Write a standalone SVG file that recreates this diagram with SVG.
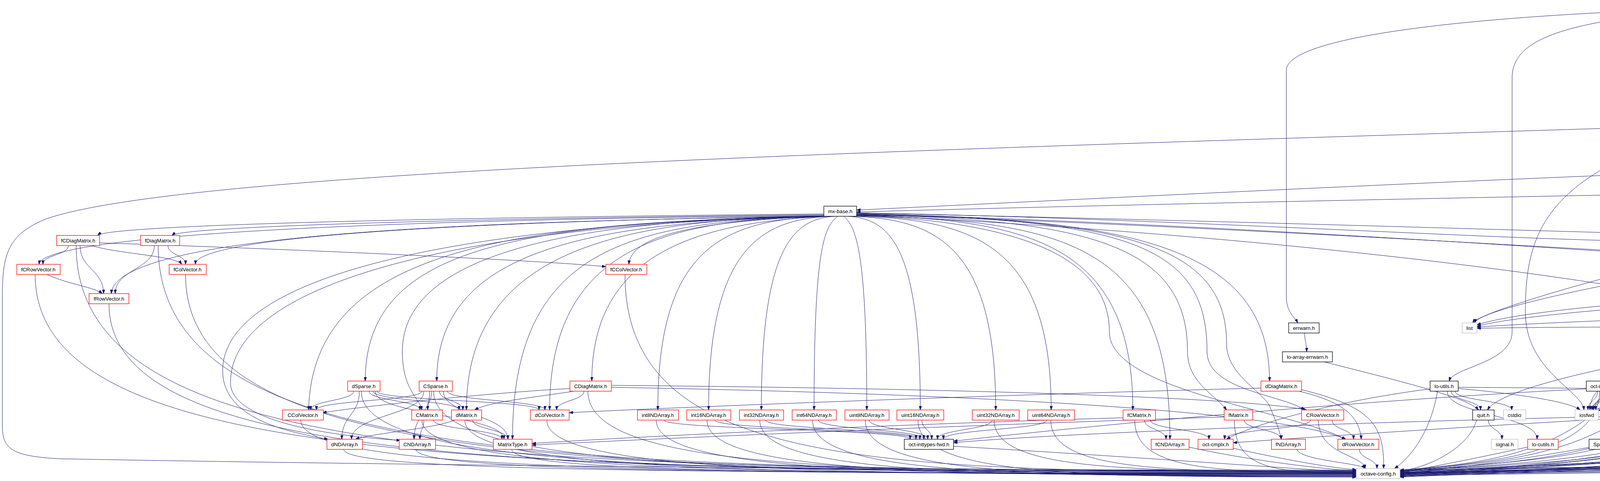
<svg xmlns="http://www.w3.org/2000/svg" width="7573" height="1232" viewBox="0 0 7573 1232">
<style>
.e path{fill:none;stroke:#191970;stroke-width:1;marker-end:url(#a)}
.n rect{fill:#fff;stroke-width:1.3}
.k rect{stroke:#000}
.r rect{stroke:#f00}
.g rect{stroke:#bfbfbf}
.m rect{fill:#bfbfbf;stroke:#000}
text{font-family:"Liberation Sans",Arial,Helvetica,sans-serif;font-size:13.3px;text-anchor:middle;fill:#000}
</style>
<defs>
<marker id="a" markerUnits="userSpaceOnUse" markerWidth="10" markerHeight="7" refX="10" refY="3.5" orient="auto"><path d="M0,0 L10,3.5 L0,7 z" fill="#191970" stroke="#191970"/></marker>
</defs>
<rect width="7573" height="1232" fill="#fff"/>
<g id="edges" class="e">
<path d="M4385,32 L4385,303"/>
<path d="M4440,32 L5430,229"/>
<path d="M4466,22 C5500,45 6600,75 7123,90"/>
<path d="M4305,24 C3800,40 3293,90 3293,180 L3293,760 C3293,800 3315,812 3322,827"/>
<path d="M4310,30 C3950,60 3871,120 3871,200 L3871,850 C3871,930 3720,940 3710,976"/>
<path d="M7170,106 C7170,130 7265,130 7265,154"/>
<path d="M7123,97 C6500,110 6100,150 5849,164"/>
<path d="M7123,95 C6400,100 5850,120 5716,154"/>
<path d="M7184,97 C7300,115 7345,170 7345,280 L7345,901"/>
<path d="M7175,106 C7203,140 7203,180 7203,300 L7203,1100 C7203,1158 7150,1168 7000,1172 C5800,1192 4300,1208 3584,1218"/>
<path d="M7145,106 L7145,560 C7145,900 6350,980 6275,1050"/>
<path d="M5775,180 C5650,195 5520,212 5470,229"/>
<path d="M5768,174 C5300,188 4700,180 4560,240 C4480,275 4430,290 4405,303"/>
<path d="M5790,180 C5500,300 5415,450 5415,620 C5415,760 5000,820 4748,838"/>
<path d="M5772,177 C5000,200 4700,300 4620,450 C4560,560 4500,700 4480,752"/>
<path d="M5849,170 C6400,200 6780,300 6780,500 L6785,827"/>
<path d="M5849,174 C6500,220 6898,350 6898,600 L6898,1100 C6898,1150 6850,1160 6700,1164 C5500,1184 4200,1200 3584,1210"/>
<path d="M5452,255 L5452,303"/>
<path d="M5427,247 C5000,262 4600,290 4412,310"/>
<path d="M5477,253 L5852,381"/>
<path d="M5477,244 C6300,255 7002,320 7002,500 L7002,1100 C7002,1152 6950,1162 6800,1166 C5600,1186 4300,1202 3584,1212"/>
<path d="M5430,255 C5100,400 4600,650 4480,752"/>
<path d="M5440,255 C5200,450 4800,700 4735,827"/>
<path d="M4412,320 C5000,340 5600,370 5850,390"/>
<path d="M4392,329 C4450,500 4700,700 4712,827"/>
<path d="M4380,329 C4380,500 4460,650 4466,752"/>
<path d="M4356,321 C2500,380 500,430 120,560 C20,600 6,650 6,760 L6,1090 C6,1150 30,1168 150,1175 C1200,1195 2800,1206 3472,1211"/>
<path d="M4384,329 C4384,600 4500,800 4500,901"/>
<path d="M4360,329 C3950,450 3905,600 3905,800 C3905,950 4050,1000 4055,1050"/>
<path d="M5890,404 L5965,453"/>
<path d="M5897,398 L6065,453"/>
<path d="M5850,394 C4500,420 3000,500 2193,538"/>
<path d="M5897,400 C6350,430 6447,650 6447,827"/>
<path d="M5897,402 C6500,440 6664,700 6664,901"/>
<path d="M5897,398 C6600,430 6794,600 6794,827"/>
<path d="M5897,404 C6400,460 6568,800 6568,976"/>
<path d="M5860,404 C5700,600 5520,800 5515,901"/>
<path d="M5850,400 C5200,500 4600,800 4520,901"/>
<path d="M5850,396 C5000,450 4550,650 4490,752"/>
<path d="M5850,398 C5200,500 4780,700 4725,827"/>
<path d="M5880,404 C6000,700 6260,900 6262,1050"/>
<path d="M5873,404 C5900,700 5990,900 5990,1050"/>
<path d="M5855,404 C5500,800 4100,900 4075,1050"/>
<path d="M5850,392 C4800,500 3800,780 3770,827"/>
<path d="M5870,404 C5850,700 5815,900 5812,976"/>
<path d="M5897,394 C6700,420 7051,520 7051,700 L7051,1100 C7051,1154 7000,1164 6850,1168 C5600,1188 4300,1204 3584,1214"/>
<path d="M6026,475 C6200,500 6370,515 6385,528"/>
<path d="M5946,468 C4500,490 3000,520 2193,543"/>
<path d="M6000,479 C6080,600 6161,650 6161,752"/>
<path d="M5960,479 C5700,650 5525,800 5522,901"/>
<path d="M5986,479 C5986,700 5992,900 5992,1050"/>
<path d="M5960,479 C5500,700 4100,950 4070,1050"/>
<path d="M5946,472 C5000,560 3800,760 3775,827"/>
<path d="M6000,479 C6100,800 6260,950 6266,1050"/>
<path d="M6020,479 C6300,600 6650,800 6660,901"/>
<path d="M6010,479 C6200,600 6440,700 6443,827"/>
<path d="M5975,479 C5900,700 5820,900 5815,976"/>
<path d="M6026,470 C6800,500 7101,620 7101,800 L7101,1100 C7101,1156 7050,1166 6900,1170 C5700,1190 4300,1206 3584,1216"/>
<path d="M5946,475 C5200,600 4600,820 4515,901"/>
<path d="M6400,554 C6400,1180 4429,1185 3584,1213"/>
<path d="M2109,548 C1200,556 280,575 250,603"/>
<path d="M2109,550 C1300,558 470,578 440,603"/>
<path d="M2110,552 C1000,562 110,600 100,677"/>
<path d="M2112,553 C1300,565 505,600 500,677"/>
<path d="M2113,554 C1200,566 295,600 285,752"/>
<path d="M2118,554 C1800,565 1615,600 1610,677"/>
<path d="M2116,554 C1300,568 935,640 935,976"/>
<path d="M2120,554 C1500,568 1118,640 1118,976"/>
<path d="M2125,554 C1800,568 1515,640 1515,976"/>
<path d="M2114,554 C1300,568 800,640 790,1050"/>
<path d="M2118,554 C1500,560 1030,640 1030,900 C1030,1000 1075,1020 1080,1050"/>
<path d="M2120,554 C1600,560 1194,634 1194,1050"/>
<path d="M2124,554 C1700,560 1407,634 1407,1050"/>
<path d="M2128,554 C1850,560 1684,634 1684,1050"/>
<path d="M2132,554 C1950,560 1814,634 1814,1050"/>
<path d="M2138,554 C2030,560 1949,634 1949,1050"/>
<path d="M2145,554 C2110,580 2084,634 2084,1050"/>
<path d="M2160,554 C2190,580 2219,634 2219,1050"/>
<path d="M2170,554 C2280,560 2356,634 2356,1050"/>
<path d="M2178,554 C2400,560 2549,634 2549,1050"/>
<path d="M2185,554 C2500,560 2691,634 2691,1050"/>
<path d="M2190,552 C2650,560 2900,634 2900,1050"/>
<path d="M2192,551 C2800,560 3040,634 3040,900 C3040,980 3110,1010 3140,1050"/>
<path d="M2193,550 C2900,558 3090,634 3090,900 C3090,1000 3280,1010 3340,1050"/>
<path d="M2193,549 C2900,556 3250,634 3250,976"/>
<path d="M2116,554 C1200,570 570,700 570,950 C570,1080 760,1110 840,1125"/>
<path d="M2116,554 C1200,572 590,720 590,980 C590,1090 900,1120 1025,1128"/>
<path d="M2122,554 C1600,565 1312,640 1312,1125"/>
<path d="M2190,553 C2750,562 2995,640 2995,1125"/>
<path d="M2193,550 C2900,558 3140,634 3140,880 C3140,960 3230,1000 3250,1040 C3265,1075 3275,1100 3280,1125"/>
<path d="M2193,552 C2700,570 2840,700 2840,850 C2840,1000 3300,1050 3445,1125"/>
<path d="M2193,545 C3000,560 3800,612 4210,618"/>
<path d="M2193,546 C3200,565 4400,608 4931,616"/>
<path d="M2193,547 C3300,580 4300,660 4834,690"/>
<path d="M2193,548 C3400,590 4500,670 5056,690"/>
<path d="M2193,550 C3200,600 3900,690 4262,754"/>
<path d="M175,629 C175,653 110,653 110,677"/>
<path d="M205,629 C205,690 265,690 265,752"/>
<path d="M235,629 C300,650 450,655 465,677"/>
<path d="M255,622 C800,640 1400,668 1551,683"/>
<path d="M430,629 C430,653 475,653 475,677"/>
<path d="M395,629 C395,690 295,690 295,752"/>
<path d="M120,703 C180,730 240,735 262,752"/>
<path d="M905,1002 C905,1026 795,1026 795,1050"/>
<path d="M945,1002 C945,1026 1075,1026 1075,1050"/>
<path d="M955,1002 C955,1026 1175,1026 1175,1050"/>
<path d="M965,1002 C965,1026 1380,1026 1380,1050"/>
<path d="M920,1002 C920,1063 875,1063 875,1125"/>
<path d="M960,1002 C960,1063 1290,1063 1290,1125"/>
<path d="M1080,1002 C1080,1026 810,1026 810,1050"/>
<path d="M1105,1002 C1105,1026 1095,1026 1095,1050"/>
<path d="M1125,1002 C1125,1026 1185,1026 1185,1050"/>
<path d="M1145,1002 C1145,1026 1395,1026 1395,1050"/>
<path d="M1085,1002 C1085,1063 900,1063 900,1125"/>
<path d="M1100,1002 C1100,1063 1060,1063 1060,1125"/>
<path d="M1135,1002 C1135,1063 1300,1063 1300,1125"/>
<path d="M1459,995 C1200,1010 900,1045 826,1057"/>
<path d="M1495,1002 C1495,1026 1425,1026 1425,1050"/>
<path d="M1565,987 C2500,995 3200,1020 3345,1050"/>
<path d="M1565,992 C2600,1010 3300,1060 3445,1125"/>
<path d="M1470,1002 C1350,1020 1250,1030 1215,1050"/>
<path d="M1085,1076 C1085,1100 1075,1100 1075,1125"/>
<path d="M1110,1076 C1110,1100 1285,1100 1285,1125"/>
<path d="M1165,1076 C1100,1100 950,1110 910,1125"/>
<path d="M1210,1076 C1210,1100 1300,1100 1300,1125"/>
<path d="M1700,1076 C1700,1100 2330,1100 2330,1125"/>
<path d="M1830,1076 C1830,1100 2345,1100 2345,1125"/>
<path d="M1960,1076 C1960,1100 2355,1100 2355,1125"/>
<path d="M2095,1076 C2095,1100 2365,1100 2365,1125"/>
<path d="M2225,1076 C2225,1100 2375,1100 2375,1125"/>
<path d="M2360,1076 C2360,1100 2385,1100 2385,1125"/>
<path d="M2540,1076 C2540,1100 2400,1100 2400,1125"/>
<path d="M2680,1076 C2680,1100 2415,1100 2415,1125"/>
<path d="M2930,1076 C2930,1100 2985,1100 2985,1125"/>
<path d="M2945,1076 C2945,1100 3095,1100 3095,1125"/>
<path d="M2875,1070 C2200,1090 1600,1120 1362,1136"/>
<path d="M3185,1076 C3185,1100 3280,1100 3280,1125"/>
<path d="M3134,1068 C2500,1088 1700,1122 1362,1140"/>
<path d="M3410,1076 C3410,1100 3465,1100 3465,1125"/>
<path d="M3355,1076 C3355,1100 3135,1100 3135,1125"/>
<path d="M3375,1076 C3375,1165 3490,1165 3495,1200"/>
<path d="M3325,1002 C3445,1030 3480,1070 3485,1125"/>
<path d="M3332,998 C3500,1040 3545,1080 3542,1200"/>
<path d="M3228,994 C2600,1010 1800,1040 1457,1057"/>
<path d="M3043,1145 C3200,1180 3400,1203 3472,1206"/>
<path d="M3157,1148 C3300,1180 3420,1200 3472,1203"/>
<path d="M3320,1151 C3330,1180 3480,1185 3495,1200"/>
<path d="M3480,1151 C3480,1175 3525,1175 3525,1200"/>
<path d="M2441,1143 C2900,1170 3300,1200 3472,1210"/>
<path d="M195,629 C195,1199 1342,1204 3472,1204"/>
<path d="M405,629 C405,1200 1478,1205 3472,1205"/>
<path d="M90,703 C90,1201 1274,1206 3472,1206"/>
<path d="M475,703 C475,1202 1524,1207 3472,1207"/>
<path d="M279,778 C279,1203 1397,1208 3472,1208"/>
<path d="M1600,703 C1600,1204 2255,1209 3472,1209"/>
<path d="M925,1002 C925,1205 1816,1210 3472,1210"/>
<path d="M1110,1002 C1110,1206 1937,1211 3472,1211"/>
<path d="M1505,1002 C1505,1207 2193,1212 3472,1212"/>
<path d="M770,1076 C770,1208 1716,1213 3472,1213"/>
<path d="M1080,1076 C1080,1209 1920,1214 3472,1214"/>
<path d="M1190,1076 C1190,1210 1989,1215 3472,1215"/>
<path d="M1400,1076 C1400,1211 2125,1216 3472,1216"/>
<path d="M1680,1076 C1680,1212 2307,1217 3472,1217"/>
<path d="M1810,1076 C1810,1213 2392,1218 3472,1218"/>
<path d="M1945,1076 C1945,1214 2479,1219 3472,1219"/>
<path d="M2080,1076 C2080,1215 2567,1220 3472,1220"/>
<path d="M2215,1076 C2215,1216 2655,1221 3472,1221"/>
<path d="M2350,1076 C2350,1217 2743,1222 3472,1222"/>
<path d="M2545,1076 C2545,1203 2869,1208 3472,1208"/>
<path d="M2690,1076 C2690,1204 2964,1209 3472,1209"/>
<path d="M2905,1076 C2905,1205 3107,1210 3472,1210"/>
<path d="M3160,1076 C3160,1206 3272,1211 3472,1211"/>
<path d="M880,1151 C880,1207 1787,1212 3472,1212"/>
<path d="M1065,1151 C1065,1208 1907,1213 3472,1213"/>
<path d="M1310,1151 C1310,1209 2067,1214 3472,1214"/>
<path d="M4270,629 C4270,690 4300,690 4300,752"/>
<path d="M4310,619 C4700,630 4950,660 5060,677"/>
<path d="M4300,629 C4600,680 5100,700 5145,752"/>
<path d="M4955,629 C4955,653 4895,653 4895,677"/>
<path d="M4935,628 C4700,680 4530,720 4495,752"/>
<path d="M5000,629 C5000,690 5150,690 5150,752"/>
<path d="M4990,629 C4990,653 5090,653 5090,677"/>
<path d="M4955,629 C4900,720 4760,780 4735,827"/>
<path d="M5014,622 C5400,640 6200,900 6258,1050"/>
<path d="M4870,703 C4870,765 4725,765 4725,827"/>
<path d="M4840,700 C4650,720 4520,740 4500,752"/>
<path d="M5120,703 C5120,727 5165,727 5165,752"/>
<path d="M5085,703 C5085,765 4745,765 4745,827"/>
<path d="M5119,770 C4950,800 4800,830 4748,836"/>
<path d="M4340,778 C4340,802 4700,802 4700,827"/>
<path d="M4261,770 C4000,790 3850,810 3781,832"/>
<path d="M4490,778 C4490,802 4705,802 4705,827"/>
<path d="M4435,770 C4100,790 3850,815 3781,836"/>
<path d="M4450,778 C4450,914 4070,914 4070,1050"/>
<path d="M4508,772 C5200,820 6200,950 6255,1050"/>
<path d="M6158,778 C6158,802 6155,802 6155,827"/>
<path d="M6190,778 C6190,802 6430,802 6430,827"/>
<path d="M6209,770 C6500,790 6700,810 6775,827"/>
<path d="M6185,778 C6185,840 6645,840 6645,901"/>
<path d="M6170,778 C6170,877 6355,877 6355,976"/>
<path d="M6150,778 C6150,914 6262,914 6262,1050"/>
<path d="M6113,766 C5200,780 4000,820 3781,838"/>
<path d="M6113,770 C5500,790 5000,825 4748,840"/>
<path d="M6470,853 C6470,877 6650,877 6650,901"/>
<path d="M6420,853 C6420,952 6278,952 6278,1050"/>
<path d="M6401,846 C6200,880 6000,980 5998,1050"/>
<path d="M6640,927 C6640,988 6282,988 6282,1050"/>
<path d="M7320,927 C7320,952 7319,952 7319,976"/>
<path d="M7350,927 C7350,952 7420,952 7420,976"/>
<path d="M7375,927 C7375,988 7525,988 7525,1050"/>
<path d="M7282,920 C7000,940 6600,975 6401,987"/>
<path d="M7380,1002 C7000,1020 6750,1045 6650,1060"/>
<path d="M7470,1002 C7470,1026 7520,1026 7520,1050"/>
<path d="M6545,1002 C6545,1026 6288,1026 6288,1050"/>
<path d="M5772,996 C5200,1010 4600,1040 4455,1050"/>
<path d="M5849,996 C6200,1010 6500,1040 6590,1050"/>
<path d="M4700,853 C4700,877 4525,877 4525,901"/>
<path d="M4740,853 C4740,914 4960,914 4960,976"/>
<path d="M4710,853 C4710,952 4670,952 4670,1050"/>
<path d="M4725,853 C4725,952 4785,952 4785,1050"/>
<path d="M4690,853 C4690,952 4440,952 4440,1050"/>
<path d="M4695,853 C4695,952 4535,952 4535,1050"/>
<path d="M4745,853 C4745,952 5080,952 5080,1050"/>
<path d="M4683,850 C4300,900 4100,980 4078,1050"/>
<path d="M4683,838 C4300,836 3900,838 3781,841"/>
<path d="M4748,848 C5500,900 6200,1000 6252,1050"/>
<path d="M4748,844 C5500,880 6200,960 6335,977"/>
<path d="M4748,846 C5500,900 6300,1000 6380,1050"/>
<path d="M4748,842 C5200,870 5600,940 5695,976"/>
<path d="M4748,841 C5300,870 5750,930 5795,976"/>
<path d="M4683,846 C4300,900 3850,980 3808,1050"/>
<path d="M4552,918 C4750,940 4900,960 4945,976"/>
<path d="M4480,927 C4480,952 4130,952 4130,976"/>
<path d="M4490,927 C4490,952 4325,952 4325,976"/>
<path d="M4520,927 C4520,988 4660,988 4660,1050"/>
<path d="M4530,927 C4530,988 4775,988 4775,1050"/>
<path d="M4506,927 C4506,988 4520,988 4520,1050"/>
<path d="M4470,927 C4470,988 4080,988 4080,1050"/>
<path d="M4545,927 C4545,988 5070,988 5070,1050"/>
<path d="M4552,920 C5300,940 6000,975 6331,989"/>
<path d="M4495,927 C4495,1026 4130,1026 4130,1125"/>
<path d="M4552,916 C4900,930 5300,960 5410,976"/>
<path d="M5500,927 C5500,952 5455,952 5455,976"/>
<path d="M5530,927 C5530,952 5600,952 5600,976"/>
<path d="M5475,920 C5300,940 5100,960 5020,976"/>
<path d="M5475,925 C5000,960 4200,1000 4092,1052"/>
<path d="M5545,927 C5545,952 5700,952 5700,976"/>
<path d="M5547,922 C5650,940 5780,955 5800,976"/>
<path d="M5505,927 C5300,1100 4800,1205 4684,1212"/>
<path d="M5000,1002 C5000,1026 5075,1026 5075,1050"/>
<path d="M4950,1002 C4950,1026 4545,1026 4545,1050"/>
<path d="M4955,1002 C4955,1026 4690,1026 4690,1050"/>
<path d="M4965,1002 C4965,1026 4810,1026 4810,1050"/>
<path d="M4935,1002 C4935,1026 4085,1026 4085,1050"/>
<path d="M5025,996 C5700,1010 6100,1040 6245,1056"/>
<path d="M5025,999 C5800,1015 6200,1040 6355,1053"/>
<path d="M4790,1076 C4790,1100 4775,1100 4775,1125"/>
<path d="M4815,1076 C4815,1100 4865,1100 4865,1125"/>
<path d="M4829,1148 C4400,1190 3800,1208 3584,1213"/>
<path d="M4130,1002 C4130,1026 4205,1026 4205,1050"/>
<path d="M4150,1002 C4150,1026 4415,1026 4415,1050"/>
<path d="M4090,1002 C4090,1026 4065,1026 4065,1050"/>
<path d="M4140,1002 C4140,1063 4275,1063 4275,1125"/>
<path d="M4130,1002 C4300,1150 4550,1205 4626,1210"/>
<path d="M4061,996 C3400,1030 2700,1100 2441,1130"/>
<path d="M4245,1076 C4245,1100 4515,1100 4515,1125"/>
<path d="M4235,1076 C4235,1100 4278,1100 4278,1125"/>
<path d="M4240,1076 C4350,1180 4560,1207 4626,1214"/>
<path d="M4167,1070 C3800,1090 3350,1120 3157,1134"/>
<path d="M4167,1066 C3500,1080 2700,1110 2441,1134"/>
<path d="M4550,1151 C4550,1175 4640,1175 4640,1200"/>
<path d="M3810,1076 C3810,1100 3845,1100 3845,1125"/>
<path d="M3780,1076 C3760,1150 3650,1200 3584,1206"/>
<path d="M3715,1002 C3715,1026 3790,1026 3790,1050"/>
<path d="M3725,1002 C3725,1026 3870,1026 3870,1050"/>
<path d="M3733,995 C3900,1010 4020,1030 4045,1050"/>
<path d="M3705,1002 C3705,1063 3935,1063 3935,1125"/>
<path d="M3661,996 C3400,1030 3200,1090 3140,1125"/>
<path d="M3733,992 C5000,1000 6000,1030 6245,1052"/>
<path d="M3680,1002 C3660,1120 3600,1180 3570,1200"/>
<path d="M3911,1145 C3750,1180 3620,1205 3584,1209"/>
<path d="M4068,1146 C3850,1185 3650,1208 3584,1211"/>
<path d="M4410,1076 C4300,1170 3800,1205 3584,1212"/>
<path d="M4660,1076 C4550,1190 3900,1208 3584,1214"/>
<path d="M3340,853 C3340,877 3345,877 3345,901"/>
<path d="M3390,927 C3600,980 3760,1020 3785,1050"/>
<path d="M4250,629 C4250,1180 3784,1185 3584,1204"/>
<path d="M4300,778 C4300,1180 3799,1185 3584,1205"/>
<path d="M4460,778 C4460,1180 3847,1185 3584,1206"/>
<path d="M4705,853 C4705,1180 3920,1185 3584,1207"/>
<path d="M4495,927 C4495,1180 3857,1185 3584,1208"/>
<path d="M4095,1002 C4095,1180 3737,1185 3584,1209"/>
<path d="M4200,1076 C4200,1180 3769,1185 3584,1210"/>
<path d="M4780,1076 C4780,1180 3943,1185 3584,1211"/>
<path d="M4520,1151 C4520,1180 3865,1185 3584,1212"/>
<path d="M4960,1002 C4960,1180 3997,1185 3584,1213"/>
<path d="M4960,629 C4960,1180 3997,1185 3584,1214"/>
<path d="M4870,703 C4870,1180 3970,1185 3584,1215"/>
<path d="M5090,703 C5090,1180 4036,1185 3584,1216"/>
<path d="M5160,778 C5160,1180 4057,1185 3584,1217"/>
<path d="M5510,927 C5510,1180 4162,1185 3584,1218"/>
<path d="M5712,1002 C5712,1180 4222,1185 3584,1219"/>
<path d="M5800,1002 C5800,1180 4249,1185 3584,1220"/>
<path d="M6150,778 C6150,1180 4354,1185 3584,1221"/>
<path d="M6440,853 C6440,1180 4441,1185 3584,1222"/>
<path d="M6655,927 C6655,1180 4505,1185 3584,1205"/>
<path d="M6560,1002 C6560,1180 4477,1185 3584,1207"/>
<path d="M7325,927 C7325,1180 4706,1185 3584,1209"/>
<path d="M7430,1002 C7430,1180 4738,1185 3584,1211"/>
</g>
<g id="n_cellcc" class="n m"><rect x="4305" y="6" width="160" height="26"/><text x="4385" y="23.5">libinterp/corefcn/Cell.cc</text></g>
<g id="n_error" class="n k"><rect x="7123" y="80" width="61" height="26"/><text x="7153" y="97.5">error.h</text></g>
<g id="n_cinttypes" class="n g"><rect x="5670" y="154" width="74" height="26"/><text x="5707" y="171.5">cinttypes</text></g>
<g id="n_octmap" class="n k"><rect x="5768" y="154" width="81" height="26"/><text x="5808" y="171.5">oct-map.h</text></g>
<g id="n_cstdarg" class="n g"><rect x="7240" y="154" width="66" height="26"/><text x="7273" y="171.5">cstdarg</text></g>
<g id="n_ovl" class="n k"><rect x="5427" y="229" width="50" height="26"/><text x="5452" y="246.5">ovl.h</text></g>
<g id="n_cellh" class="n k"><rect x="4356" y="303" width="56" height="26"/><text x="4384" y="320.5">Cell.h</text></g>
<g id="n_vector" class="n g"><rect x="5421" y="303" width="58" height="26"/><text x="5450" y="320.5">vector</text></g>
<g id="n_ov" class="n k"><rect x="5850" y="378" width="47" height="26"/><text x="5873" y="395.5">ov.h</text></g>
<g id="n_ovbase" class="n r"><rect x="5946" y="453" width="80" height="26"/><text x="5986" y="470.5">ov-base.h</text></g>
<g id="n_mxtypes" class="n g"><rect x="6050" y="453" width="83" height="26"/><text x="6091" y="470.5">mxtypes.h</text></g>
<g id="n_mxbase" class="n k"><rect x="2109" y="528" width="84" height="26"/><text x="2151" y="545.5">mx-base.h</text></g>
<g id="n_autoshlib" class="n r"><rect x="6358" y="528" width="91" height="26"/><text x="6403" y="545.5">auto-shlib.h</text></g>
<g id="n_fCDiagMatrix" class="n r"><rect x="145" y="603" width="110" height="26"/><text x="200" y="620.5">fCDiagMatrix.h</text></g>
<g id="n_fDiagMatrix" class="n r"><rect x="360" y="603" width="100" height="26"/><text x="410" y="620.5">fDiagMatrix.h</text></g>
<g id="n_boolSparse" class="n r"><rect x="4210" y="603" width="100" height="26"/><text x="4260" y="620.5">boolSparse.h</text></g>
<g id="n_chMatrix" class="n r"><rect x="4931" y="603" width="83" height="26"/><text x="4972" y="620.5">chMatrix.h</text></g>
<g id="n_fCRowVector" class="n r"><rect x="43" y="677" width="111" height="26"/><text x="98" y="694.5">fCRowVector.h</text></g>
<g id="n_fColVector" class="n r"><rect x="433" y="677" width="95" height="26"/><text x="480" y="694.5">fColVector.h</text></g>
<g id="n_fCColVector" class="n r"><rect x="1551" y="677" width="105" height="26"/><text x="1603" y="694.5">fCColVector.h</text></g>
<g id="n_chNDArray" class="n r"><rect x="4834" y="677" width="98" height="26"/><text x="4883" y="694.5">chNDArray.h</text></g>
<g id="n_boolMatrix" class="n r"><rect x="5056" y="677" width="94" height="26"/><text x="5103" y="694.5">boolMatrix.h</text></g>
<g id="n_fRowVector" class="n r"><rect x="228" y="752" width="102" height="26"/><text x="279" y="769.5">fRowVector.h</text></g>
<g id="n_PermMatrix" class="n r"><rect x="4261" y="752" width="101" height="26"/><text x="4311" y="769.5">PermMatrix.h</text></g>
<g id="n_strvec" class="n k"><rect x="4435" y="752" width="73" height="26"/><text x="4471" y="769.5">str-vec.h</text></g>
<g id="n_boolNDArray" class="n r"><rect x="5119" y="752" width="109" height="26"/><text x="5173" y="769.5">boolNDArray.h</text></g>
<g id="n_octstream" class="n k"><rect x="6113" y="752" width="96" height="26"/><text x="6161" y="769.5">oct-stream.h</text></g>
<g id="n_errwarn" class="n k"><rect x="3299" y="827" width="78" height="26"/><text x="3338" y="844.5">errwarn.h</text></g>
<g id="n_list" class="n g"><rect x="3743" y="827" width="38" height="26"/><text x="3762" y="844.5">list</text></g>
<g id="n_Array" class="n k"><rect x="4683" y="827" width="65" height="26"/><text x="4715" y="844.5">Array.h</text></g>
<g id="n_ios" class="n g"><rect x="6136" y="827" width="39" height="26"/><text x="6155" y="844.5">ios</text></g>
<g id="n_dataconv" class="n k"><rect x="6401" y="827" width="92" height="26"/><text x="6447" y="844.5">data-conv.h</text></g>
<g id="n_map" class="n g"><rect x="6770" y="827" width="48" height="26"/><text x="6794" y="844.5">map</text></g>
<g id="n_loarrayerrwarn" class="n k"><rect x="3283" y="901" width="128" height="26"/><text x="3347" y="918.5">lo-array-errwarn.h</text></g>
<g id="n_idxvector" class="n k"><rect x="4461" y="901" width="91" height="26"/><text x="4506" y="918.5">idx-vector.h</text></g>
<g id="n_Range" class="n k"><rect x="5475" y="901" width="72" height="26"/><text x="5511" y="918.5">Range.h</text></g>
<g id="n_machinfo" class="n k"><rect x="6618" y="901" width="92" height="26"/><text x="6664" y="918.5">mach-info.h</text></g>
<g id="n_unwindprot" class="n k"><rect x="7282" y="901" width="103" height="26"/><text x="7333" y="918.5">unwind-prot.h</text></g>
<g id="n_dSparse" class="n r"><rect x="890" y="976" width="83" height="26"/><text x="931" y="993.5">dSparse.h</text></g>
<g id="n_CSparse" class="n r"><rect x="1073" y="976" width="85" height="26"/><text x="1115" y="993.5">CSparse.h</text></g>
<g id="n_CDiagMatrix" class="n r"><rect x="1459" y="976" width="106" height="26"/><text x="1512" y="993.5">CDiagMatrix.h</text></g>
<g id="n_dDiagMatrix" class="n r"><rect x="3228" y="976" width="104" height="26"/><text x="3280" y="993.5">dDiagMatrix.h</text></g>
<g id="n_loutils" class="n k"><rect x="3661" y="976" width="72" height="26"/><text x="3697" y="993.5">lo-utils.h</text></g>
<g id="n_octinttypes" class="n k"><rect x="4061" y="976" width="101" height="26"/><text x="4111" y="993.5">oct-inttypes.h</text></g>
<g id="n_cstring" class="n g"><rect x="4289" y="976" width="61" height="26"/><text x="4319" y="993.5">cstring</text></g>
<g id="n_dimvector" class="n k"><rect x="4930" y="976" width="95" height="26"/><text x="4977" y="993.5">dim-vector.h</text></g>
<g id="n_rangefwd" class="n k"><rect x="5401" y="976" width="92" height="26"/><text x="5447" y="993.5">range-fwd.h</text></g>
<g id="n_typetraits" class="n g"><rect x="5567" y="976" width="83" height="26"/><text x="5608" y="993.5">type_traits</text></g>
<g id="n_loerror" class="n k"><rect x="5674" y="976" width="76" height="26"/><text x="5712" y="993.5">lo-error.h</text></g>
<g id="n_octsort" class="n k"><rect x="5772" y="976" width="77" height="26"/><text x="5810" y="993.5">oct-sort.h</text></g>
<g id="n_memory" class="n g"><rect x="6331" y="976" width="70" height="26"/><text x="6366" y="993.5">memory</text></g>
<g id="n_octtime" class="n k"><rect x="6528" y="976" width="80" height="26"/><text x="6568" y="993.5">oct-time.h</text></g>
<g id="n_stack" class="n g"><rect x="7293" y="976" width="53" height="26"/><text x="7319" y="993.5">stack</text></g>
<g id="n_actioncontainer" class="n k"><rect x="7370" y="976" width="128" height="26"/><text x="7434" y="993.5">action-container.h</text></g>
<g id="n_CColVector" class="n r"><rect x="723" y="1050" width="105" height="26"/><text x="775" y="1067.5">CColVector.h</text></g>
<g id="n_CMatrix" class="n r"><rect x="1054" y="1050" width="79" height="26"/><text x="1093" y="1067.5">CMatrix.h</text></g>
<g id="n_dMatrix" class="n r"><rect x="1156" y="1050" width="77" height="26"/><text x="1194" y="1067.5">dMatrix.h</text></g>
<g id="n_dColVector" class="n r"><rect x="1358" y="1050" width="99" height="26"/><text x="1407" y="1067.5">dColVector.h</text></g>
<g id="n_int8NDArray" class="n r"><rect x="1632" y="1050" width="105" height="26"/><text x="1684" y="1067.5">int8NDArray.h</text></g>
<g id="n_int16NDArray" class="n r"><rect x="1758" y="1050" width="113" height="26"/><text x="1814" y="1067.5">int16NDArray.h</text></g>
<g id="n_int32NDArray" class="n r"><rect x="1893" y="1050" width="113" height="26"/><text x="1949" y="1067.5">int32NDArray.h</text></g>
<g id="n_int64NDArray" class="n r"><rect x="2028" y="1050" width="113" height="26"/><text x="2084" y="1067.5">int64NDArray.h</text></g>
<g id="n_uint8NDArray" class="n r"><rect x="2163" y="1050" width="113" height="26"/><text x="2219" y="1067.5">uint8NDArray.h</text></g>
<g id="n_uint16NDArray" class="n r"><rect x="2296" y="1050" width="120" height="26"/><text x="2356" y="1067.5">uint16NDArray.h</text></g>
<g id="n_uint32NDArray" class="n r"><rect x="2489" y="1050" width="120" height="26"/><text x="2549" y="1067.5">uint32NDArray.h</text></g>
<g id="n_uint64NDArray" class="n r"><rect x="2631" y="1050" width="120" height="26"/><text x="2691" y="1067.5">uint64NDArray.h</text></g>
<g id="n_fCMatrix" class="n r"><rect x="2875" y="1050" width="83" height="26"/><text x="2916" y="1067.5">fCMatrix.h</text></g>
<g id="n_fMatrix" class="n r"><rect x="3134" y="1050" width="73" height="26"/><text x="3170" y="1067.5">fMatrix.h</text></g>
<g id="n_CRowVector" class="n r"><rect x="3332" y="1050" width="108" height="26"/><text x="3386" y="1067.5">CRowVector.h</text></g>
<g id="n_quit" class="n k"><rect x="3770" y="1050" width="55" height="26"/><text x="3797" y="1067.5">quit.h</text></g>
<g id="n_cstdio" class="n g"><rect x="3849" y="1050" width="57" height="26"/><text x="3877" y="1067.5">cstdio</text></g>
<g id="n_iosfwd" class="n g"><rect x="4032" y="1050" width="60" height="26"/><text x="4062" y="1067.5">iosfwd</text></g>
<g id="n_lomappers" class="n k"><rect x="4167" y="1050" width="100" height="26"/><text x="4217" y="1067.5">lo-mappers.h</text></g>
<g id="n_lotraits" class="n k"><rect x="4391" y="1050" width="77" height="26"/><text x="4429" y="1067.5">lo-traits.h</text></g>
<g id="n_cassert" class="n g"><rect x="4494" y="1050" width="65" height="26"/><text x="4526" y="1067.5">cassert</text></g>
<g id="n_Arrayfwd" class="n k"><rect x="4632" y="1050" width="90" height="26"/><text x="4677" y="1067.5">Array-fwd.h</text></g>
<g id="n_octrefcount" class="n k"><rect x="4746" y="1050" width="103" height="26"/><text x="4797" y="1067.5">oct-refcount.h</text></g>
<g id="n_algorithm" class="n g"><rect x="5049" y="1050" width="77" height="26"/><text x="5087" y="1067.5">algorithm</text></g>
<g id="n_cstdlib" class="n g"><rect x="5960" y="1050" width="60" height="26"/><text x="5990" y="1067.5">cstdlib</text></g>
<g id="n_string" class="n g"><rect x="6242" y="1050" width="55" height="26"/><text x="6269" y="1067.5">string</text></g>
<g id="n_initializerlist" class="n g"><rect x="6351" y="1050" width="97" height="26"/><text x="6399" y="1067.5">initializer_list</text></g>
<g id="n_functional" class="n g"><rect x="6571" y="1050" width="79" height="26"/><text x="6610" y="1067.5">functional</text></g>
<g id="n_cstddef" class="n g"><rect x="7501" y="1050" width="65" height="26"/><text x="7533" y="1067.5">cstddef</text></g>
<g id="n_dNDArray" class="n r"><rect x="837" y="1125" width="91" height="26"/><text x="882" y="1142.5">dNDArray.h</text></g>
<g id="n_CNDArray" class="n r"><rect x="1022" y="1125" width="93" height="26"/><text x="1068" y="1142.5">CNDArray.h</text></g>
<g id="n_MatrixType" class="n r"><rect x="1263" y="1125" width="99" height="26"/><text x="1312" y="1142.5">MatrixType.h</text></g>
<g id="n_octinttypesfwd" class="n k"><rect x="2315" y="1125" width="126" height="26"/><text x="2378" y="1142.5">oct-inttypes-fwd.h</text></g>
<g id="n_fCNDArray" class="n r"><rect x="2947" y="1125" width="97" height="26"/><text x="2995" y="1142.5">fCNDArray.h</text></g>
<g id="n_octcmplx" class="n r"><rect x="3067" y="1125" width="90" height="26"/><text x="3112" y="1142.5">oct-cmplx.h</text></g>
<g id="n_fNDArray" class="n r"><rect x="3255" y="1125" width="87" height="26"/><text x="3298" y="1142.5">fNDArray.h</text></g>
<g id="n_dRowVector" class="n r"><rect x="3425" y="1125" width="105" height="26"/><text x="3477" y="1142.5">dRowVector.h</text></g>
<g id="n_signal" class="n g"><rect x="3818" y="1125" width="68" height="26"/><text x="3852" y="1142.5">signal.h</text></g>
<g id="n_locutils" class="n r"><rect x="3911" y="1125" width="78" height="26"/><text x="3950" y="1142.5">lo-cutils.h</text></g>
<g id="n_Sparsefwd" class="n k"><rect x="4068" y="1125" width="100" height="26"/><text x="4118" y="1142.5">Sparse-fwd.h</text></g>
<g id="n_limits" class="n g"><rect x="4257" y="1125" width="52" height="26"/><text x="4283" y="1142.5">limits</text></g>
<g id="n_loieee" class="n k"><rect x="4495" y="1125" width="73" height="26"/><text x="4531" y="1142.5">lo-ieee.h</text></g>
<g id="n_atomic" class="n g"><rect x="4744" y="1125" width="61" height="26"/><text x="4774" y="1142.5">atomic</text></g>
<g id="n_octatomic" class="n k"><rect x="4829" y="1125" width="94" height="26"/><text x="4876" y="1142.5">oct-atomic.h</text></g>
<g id="n_octaveconfig" class="n g"><rect x="3472" y="1200" width="112" height="26"/><text x="3528" y="1217.5">octave-config.h</text></g>
<g id="n_cmath" class="n g"><rect x="4626" y="1200" width="58" height="26"/><text x="4655" y="1217.5">cmath</text></g>
</svg>
